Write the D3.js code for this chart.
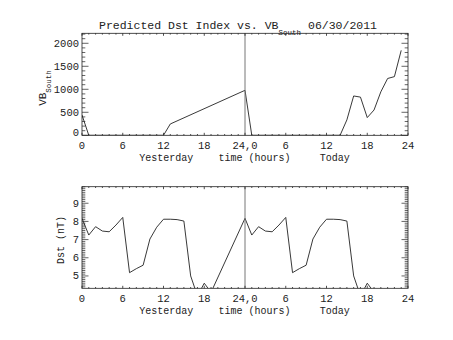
<!DOCTYPE html>
<html><head><meta charset="utf-8">
<script src="https://cdn.jsdelivr.net/npm/d3@7"></script>
<style>body{margin:0;background:#fff}svg{display:block}text{font-family:"Liberation Mono","DejaVu Sans Mono",monospace;fill:#222}</style>
</head><body><svg id="c" width="453" height="340"></svg>
<script>
// ---- data ----
const vbHours = [0,1,12,13,24,25,38,39,40,41,42,43,44,45,46,47];
const vbValues = [441,0,0,246,978,0,0,335,855,830,385,550,945,1235,1275,1846];
const dstHours = [0,1,2,3,4,5,6,7,8,9,10,11,12,13,14,15,16,17,18,19,24,25,26,27,28,29,30,31,32,33,34,35,36,37,38,39,40,41,42,43];
const dstValues = [8.17,7.25,7.71,7.47,7.43,7.8,8.22,5.18,5.4,5.59,7.03,7.68,8.12,8.12,8.1,8.02,5.0,3.9,4.6,4.1,8.17,7.25,7.71,7.47,7.43,7.8,8.22,5.18,5.4,5.59,7.03,7.68,8.12,8.12,8.1,8.02,5.0,3.9,4.6,4.1];
const xTickValues = [0,6,12,18,24,30,36,42,48];
const xTickLabels = ["0","6","12","18","24,0","6","12","18","24"];
const vbTicks = [0,500,1000,1500,2000];
const dstTicks = [5,6,7,8,9];

const svg = d3.select("#c");
const L = 82, R = 408;
const x = d3.scaleLinear().domain([0,48]).range([L,R]);
const ink = "#222";

function panel(id, top, bottom, y, majors, minorStep, yLabelFmt, data, xs, zeroShift) {
  const g = svg.append("g");
  g.append("clipPath").attr("id", id).append("rect")
    .attr("x", L).attr("y", top).attr("width", R-L).attr("height", bottom-top);
  const line = d3.line().x((d,i)=>x(xs[i])).y(d=>y(d));
  g.append("path").datum(data).attr("d", line).attr("fill","none")
    .attr("stroke", ink).attr("stroke-width",0.9).attr("clip-path",`url(#${id})`);
  g.append("line").attr("x1",x(24)).attr("x2",x(24)).attr("y1",top).attr("y2",bottom)
    .attr("stroke","#777").attr("stroke-width",1);
  g.append("rect").attr("x",L).attr("y",top).attr("width",R-L).attr("height",bottom-top)
    .attr("fill","none").attr("stroke",ink).attr("stroke-width",0.8);
  const xMinor = d3.range(0,49,1);
  xMinor.forEach(h=>{
    const len = h%6===0 ? 2.5 : 1.3;
    g.append("line").attr("x1",x(h)).attr("x2",x(h)).attr("y1",bottom).attr("y2",bottom-len).attr("stroke",ink).attr("stroke-width",0.8);
    g.append("line").attr("x1",x(h)).attr("x2",x(h)).attr("y1",top).attr("y2",top+len).attr("stroke",ink).attr("stroke-width",0.8);
  });
  const [d0,d1] = y.domain();
  const minorTicks = d3.range(Math.ceil(d0/minorStep)*minorStep, d1+1e-9, minorStep);
  minorTicks.forEach(v=>{
    const isMajor = majors.some(m=>Math.abs(m-v)<minorStep/10);
    const len = isMajor ? 6.5 : 3.3;
    g.append("line").attr("x1",L).attr("x2",L+len).attr("y1",y(v)).attr("y2",y(v)).attr("stroke",ink).attr("stroke-width",0.7);
    g.append("line").attr("x1",R).attr("x2",R-len).attr("y1",y(v)).attr("y2",y(v)).attr("stroke",ink).attr("stroke-width",0.7);
  });
  majors.forEach(v=>{
    g.append("text").attr("x",L-3).attr("y",y(v)+3.5-(v===d3.min(majors)?zeroShift:0))
      .attr("text-anchor","end").attr("font-size",10.5).text(yLabelFmt(v));
  });
  xTickValues.forEach((v,i)=>{
    g.append("text").attr("x",x(v)).attr("y",bottom+14).attr("text-anchor","middle")
      .attr("font-size",10.5).text(xTickLabels[i]);
  });
  g.append("text").attr("x",x(12.4)).attr("y",bottom+26).attr("text-anchor","middle").attr("font-size",10).text("Yesterday");
  g.append("text").attr("x",x(25.4)).attr("y",bottom+26).attr("text-anchor","middle").attr("font-size",10).text("time (hours)");
  g.append("text").attr("x",x(37.2)).attr("y",bottom+26).attr("text-anchor","middle").attr("font-size",10).text("Today");
  return g;
}

const yTop = d3.scaleLinear().domain([0,2217]).range([135.3,33.3]);
panel("clipA", 33.3, 135.3, yTop, vbTicks, 100, d=>String(d), vbValues, vbHours, 3);
const yBot = d3.scaleLinear().domain([4.32,9.91]).range([288.3,186.7]);
panel("clipB", 186.7, 288.3, yBot, dstTicks, 0.1, d=>String(d), dstValues, dstHours, 0);

const t = svg.append("text").attr("x",99).attr("y",28.5).attr("font-size",11.5);
t.append("tspan").text("Predicted Dst Index vs. VB");
t.append("tspan").attr("dy",6).attr("font-size",7.5).text("South");
t.append("tspan").attr("x",308).attr("dy",-6).text("06/30/2011");

const ya = svg.append("text").attr("transform","translate(46,88) rotate(-90)").attr("text-anchor","middle").attr("font-size",11);
ya.append("tspan").text("VB");
ya.append("tspan").attr("dy",5).attr("font-size",7.5).text("South");
svg.append("text").attr("transform","translate(64,240) rotate(-90)").attr("text-anchor","middle").attr("font-size",10).text("Dst (nT)");
</script></body></html>
